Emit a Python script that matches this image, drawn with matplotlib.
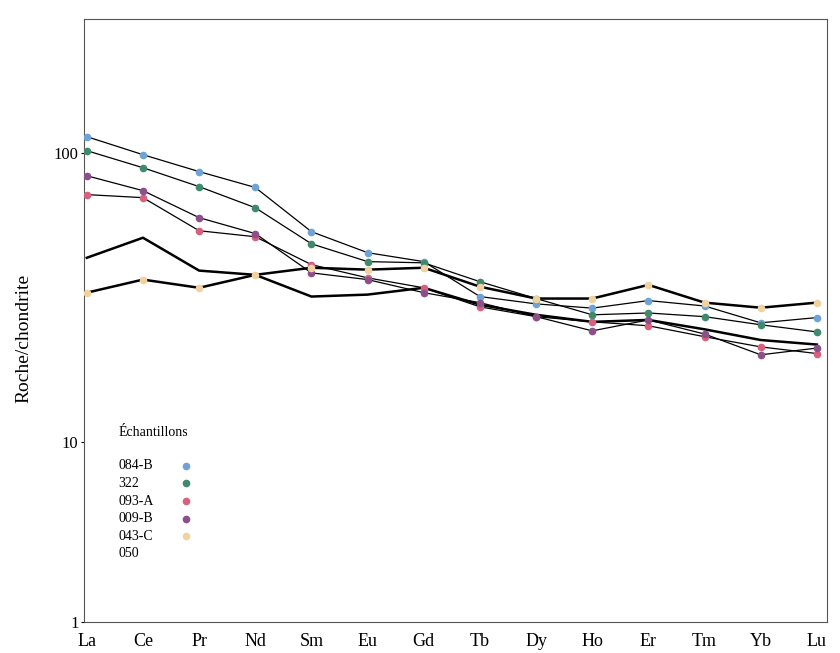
import numpy as np
import matplotlib
matplotlib.use("Agg")
import matplotlib.pyplot as plt

plt.rcParams["font.family"] = ["Liberation Serif", "DejaVu Serif"]

elements = ["La", "Ce", "Pr", "Nd", "Sm", "Eu", "Gd", "Tb", "Dy", "Ho", "Er", "Tm", "Yb", "Lu"]

s084B = [113.6, 98.4, 86.0, 75.8, 53.3, 45.1, 42.0, 31.8, 30.0, 29.0, 30.8, 29.5, 25.8, 26.9]
s322 = [101.6, 88.7, 76.3, 64.5, 48.4, 42.0, 41.6, 35.8, 31.3, 27.5, 27.9, 27.1, 25.4, 24.0]
s093A = [71.6, 69.9, 53.7, 51.2, 41.0, 36.9, 34.1, 29.3, 27.1, 26.0, 25.2, 23.1, 21.3, 20.2]
s009B = [83.2, 73.9, 59.6, 52.5, 38.4, 36.4, 32.8, 30.3, 27.1, 24.2, 26.4, 23.6, 20.0, 21.1]
s043C = [32.8, 36.4, 34.1, 37.8, 40.0, 39.4, 40.0, 34.4, 31.3, 31.3, 34.9, 30.3, 29.1, 30.3]
s050 = [43.3, 50.8, 39.1, 37.8, 31.8, 32.3, 34.1, 29.8, 27.5, 26.0, 26.4, 24.5, 22.5, 21.7]

names = ["084-B", "322", "093-A", "009-B", "043-C", "050"]
series = [s084B, s322, s093A, s009B, s043C, s050]
colors = ["#6fa3d8", "#3f8a6c", "#d8607e", "#8c4f8a", "#f0d2a0", None]
widths = [0.9, 0.9, 0.9, 0.9, 1.8, 1.8]

# the original axis squeezes the 1-10 decade
K = 180 / 289


def fwd(v):
    l = np.log10(np.maximum(v, 1e-9))
    return np.where(l >= 1, l, 1 - (1 - l) * K)


def inv(u):
    return np.where(u >= 1, 10 ** u, 10 ** (1 - (1 - u) / K))


fig = plt.figure(figsize=(8.4, 6.53), dpi=100)
ax = fig.add_axes([0.1, 0.0475, 0.8845, 0.9235])
x = np.arange(len(elements))

for vals, c, lw in zip(series, colors, widths):
    if c is None:
        ax.plot(x, vals, color="black", lw=lw, zorder=2)
    else:
        ax.plot(x, vals, color="black", lw=lw, marker="o", ms=4.5,
                mfc=c, mec=c, zorder=3)

ax.set_yscale("function", functions=(fwd, inv))
ax.set_ylim(1, 290)
ax.set_xlim(-0.05, 13.18)
ax.set_yticks([1, 10, 100])
ax.set_yticklabels(["1", "10", "100"])
ax.minorticks_off()
ax.set_xticks(x)
ax.set_xticklabels(elements)
ax.tick_params(axis="x", length=0, labelsize=13, pad=8)
ax.tick_params(axis="y", length=2, labelsize=12, pad=2)
for sp in ax.spines.values():
    sp.set_color("#555555")
    sp.set_linewidth(0.8)

ax.set_ylabel("Roche/chondrite", fontsize=14)
ax.yaxis.set_label_coords(-0.07, 0.47)

# legend drawn by hand, text left and dot right
ax.text(0.046, 0.315, "Échantillons", transform=ax.transAxes, fontsize=10,
        va="center", ha="left")
for i, (n, c) in enumerate(zip(names, colors)):
    yy = 0.259 - i * 0.0292
    ax.text(0.046, yy, n, transform=ax.transAxes, fontsize=10, va="center", ha="left")
    if c is not None:
        ax.plot([0.137], [yy], transform=ax.transAxes, marker="o", ms=4.5,
                mfc=c, mec=c, ls="none")

fig.savefig("out.png", dpi=100)
